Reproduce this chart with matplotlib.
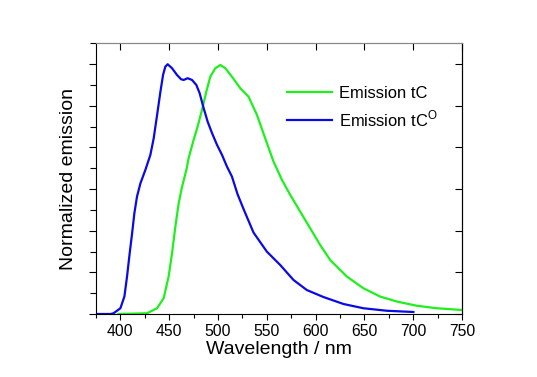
import matplotlib
matplotlib.use("Agg")
import matplotlib.pyplot as plt
from matplotlib.ticker import MultipleLocator, NullFormatter

plt.rcParams['font.family'] = ['Liberation Sans', 'DejaVu Sans']
plt.rcParams['mathtext.fontset'] = 'custom'
plt.rcParams['mathtext.rm'] = 'Liberation Sans'

# Emission tC (green)
tc_wl = [398, 427.3, 437.5, 444.3, 449.4, 452.9, 456.3, 459.7, 463.2, 467.6, 469.9,
         475, 479.1, 483.6, 488, 492.1, 497.2, 502.4, 507.5, 514.3, 522.8, 531.3,
         539.9, 548.4, 556.9, 565.5, 574, 584.2, 594.5, 604.7, 615, 632, 649, 666,
         683.2, 703.7, 724.2, 750]
tc_em = [0.0, 0.003, 0.023, 0.063, 0.15, 0.243, 0.35, 0.443, 0.51, 0.577, 0.624,
         0.697, 0.75, 0.817, 0.89, 0.95, 0.984, 0.997, 0.984, 0.95, 0.904, 0.87,
         0.797, 0.703, 0.61, 0.537, 0.477, 0.41, 0.343, 0.276, 0.216, 0.15, 0.103, 0.07,
         0.05, 0.033, 0.023, 0.016]

# Emission tC^O (blue)
tco_wl = [375, 390, 393, 400, 404.1, 406.8, 409.5, 412, 414.3, 417, 420.5, 425.6,
          430.7, 434.1, 437.6, 441, 443.7, 446, 448.4, 452.9, 458, 462.1, 464.8,
          468.9, 473.4, 477.8, 481.2, 485.3, 489.4, 493.9, 499, 504.1, 509.2, 514.3,
          520, 526.2, 536.4, 550, 563.8, 577.4, 591, 608, 628.6, 649, 673, 700.2]
tco_em = [0.0, 0.0, 0.003, 0.023, 0.07, 0.15, 0.243, 0.323, 0.403, 0.47, 0.523, 0.577,
          0.637, 0.703, 0.797, 0.89, 0.957, 0.99, 1.0, 0.984, 0.957, 0.94, 0.937,
          0.944, 0.937, 0.917, 0.884, 0.824, 0.77, 0.724, 0.677, 0.637, 0.59, 0.55,
          0.48, 0.42, 0.326, 0.25, 0.196, 0.136, 0.096, 0.068, 0.04, 0.023, 0.013, 0.008]

fig = plt.figure(figsize=(5.37, 3.77), dpi=100)
ax = fig.add_axes([96/537, 1-314/377, (462-96)/537, (314-43)/377])

ax.plot(tc_wl, tc_em, color='#1ef01e', lw=1.6, label='Emission tC')
ax.plot(tco_wl, tco_em, color='#0a0ae6', lw=1.6, label=r'Emission tC$^\mathrm{O}$')

ax.set_xlim(375, 750)
ax.set_ylim(0, 6.51/6)
ax.xaxis.set_major_locator(MultipleLocator(50))
ax.xaxis.set_minor_locator(MultipleLocator(25))
ax.yaxis.set_major_locator(MultipleLocator(1/6))
ax.yaxis.set_minor_locator(MultipleLocator(1/12))
ax.yaxis.set_major_formatter(NullFormatter())

ax.tick_params(axis='x', which='major', direction='out', length=4, width=0.8,
               labelsize=11.3, pad=3, top=False)
ax.tick_params(axis='x', which='minor', direction='out', length=3, width=0.8, top=False)
ax.tick_params(axis='y', which='major', direction='out', length=5, width=0.8, right=False)
ax.tick_params(axis='y', which='minor', direction='out', length=4, width=0.8, right=False)

# top and right ticks pointing inward (major only)
secx = ax.secondary_xaxis('top')
secx.xaxis.set_major_locator(MultipleLocator(50))
secx.tick_params(direction='in', length=5, width=0.8, labeltop=False)
secx.spines['top'].set_color('#888888')
secy = ax.secondary_yaxis('right')
secy.yaxis.set_major_locator(MultipleLocator(1/6))
secy.tick_params(direction='in', length=5, width=0.8, labelright=False)

for s in ax.spines.values():
    s.set_linewidth(0.8)
ax.spines['top'].set_color('#888888')

ax.set_xlabel('Wavelength / nm', fontsize=14, labelpad=2)
ax.set_ylabel('Normalized emission', fontsize=14, labelpad=5)

ax.legend(loc='upper left', bbox_to_anchor=((287-96)/366, (314-86)/271),
          frameon=False, fontsize=11.9, handlelength=2.7, handletextpad=0.45,
          labelspacing=0.45, borderpad=0, borderaxespad=0)

fig.savefig('out.png', dpi=100)
